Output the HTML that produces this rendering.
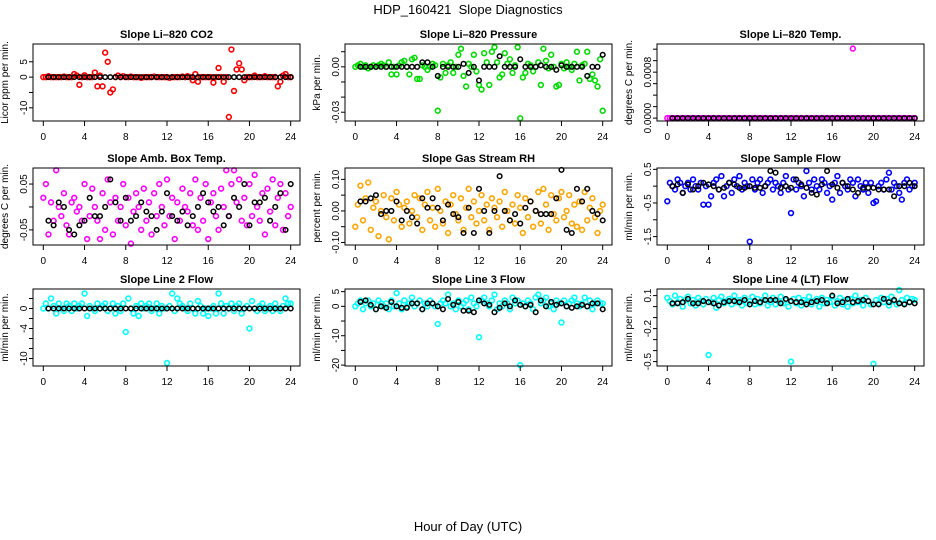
<!DOCTYPE html>
<html><head><meta charset="utf-8"><style>
html,body{margin:0;padding:0;background:#fff;}
svg{display:block;font-family:"Liberation Sans",Arial,sans-serif;}
</style></head><body>
<svg id="chart" width="936" height="540" viewBox="0 0 936 540" xmlns="http://www.w3.org/2000/svg">
<rect width="936" height="540" fill="#fff"/>
<text x="468" y="14" font-size="13" text-anchor="middle" style="white-space:pre">HDP_160421  Slope Diagnostics</text>
<text x="468" y="531" font-size="13" text-anchor="middle">Hour of Day (UTC)</text>
</svg>
<script>
const xTicks = [0,4,8,12,16,20,24];
// Panel 1: CO2 (ppm/min)
const co2Color = [0,0,0.3,0,0,0,0,0, 0.2,0,0,0,1,0.5,-2.5,0, 0.6,0,0,0,1.5,-3,0.5,-3, 8,5,-5,-4,0,0.5,0,0.3, 0,0,0.2,0,0,0,-0.2,0, 0,0,0,0.2,0,0,0,0, 0,-0.2,0,0,0,0,0.2,0, 0.3,0,-1,1,-1.5,0,0,0, 0,0,-1.8,0,3,0,-1.5,0, -13,9,-4.5,2.5,4.5,2.5,-1,0, 0,0,0.5,0,0,0,0.3,0, 0,0,0,-3,-1.5,0.5,1,0, 0];
const co2Black = [0,0,0,0,0,0,0,0,0,0,0,0,0,0,0,0,0,0,0,0,0,0,0,0,0,0,0,0,0,0,0,0,0,0,0,0,0,0,0,0,0,0,0,0,0,0,0,0];
const co2Ticks = [5,0,-5,-10];
const co2Labels = ["5","0","","-10"];
// Panel 2: Pressure (0.001 kPa/min)
const presColor = [0,1,2,0,1,-1,0,1, 0,1,2,1,0,3,-5,0, -5,1,3,4,0,-5,5,6, -8,-8,1,0,-2,0,2,1, -29,-7,2,-4,1,3,-4,0, 8,12,-6,-13,2,0,8,-3, -12,-15,9,3,-12,10,13,3, -7,-5,9,2,5,-4,1,13, -34,-7,-4,2,1,-3,0,3, -12,12,4,-1,8,0,-13,-12, 2,-1,3,0,-2,2,10,-9, 1,2,10,-8,-5,-9,-13,5, -29];
const presBlack = [0,0,0,0,0,0,0,0,0,0,0,0,3,3,0,-6,0,0,0,0,2,-4,0,-9,0,0,0,7,0,0,0,5,0,0,0,1,0,0,-2,1,0,0,0,0,-6,0,0,8];
const presTicks = [10,0,-10,-20,-30];
const presLabels = ["","0.00","","","-0.03"];
// Panel 3: Li-820 temp (1e-4 C/min)
const tempColor = [0,0,0,0,0,0,0,0,0,0,0,0,0,0,0,0,0,0,0,0,0,0,0,0,0,0,0,0,0,0,0,0,0,0,0,0,0,0,0,0,0,0,0,0,0,0,0,0,0,0,0,0,0,0,0,0,0,0,0,0,0,0,0,0,0,0,0,0,0,0,0,0,12.1,0,0,0,0,0,0,0,0,0,0,0,0,0,0,0,0,0,0,0,0,0,0,0,0];
const tempBlack = [0,0,0,0,0,0,0,0,0,0,0,0,0,0,0,0,0,0,0,0,0,0,0,0,0,0,0,0,0,0,0,0,0,0,0,0,0,0,0,0,0,0,0,0,0,0,0,0];
const tempTicks = [0,2,4,6,8,10,12];
const tempLabels = ["0.0000","","","","0.0008","",""];
// Panel 4: Amb box temp (0.01 C/min)
const ambColor = [2,5,-6,1,-3,8,0,-2, 3,-4,-6,1,2,-1,0,-3, 5,-7,-2,4,0,-3,-7,3, -5,6,1,-6,2,-3,0,5, -4,2,-8,-1,3,0,-5,4, -3,1,-6,3,-2,5,0,-4, 6,-2,2,-7,1,-3,4,0, -1,3,-4,6,-5,2,-3,5, -7,1,3,-2,-5,4,0,8, -2,5,8,1,6,-3,2,-4, 5,-2,7,0,-3,3,-6,4, -1,6,-4,2,5,-5,3,-2, 0];
const ambBlack = [-3,-4,1,0,-5,-6,-4,-3,2,-2,-2,0,6,1,-3,2,-3,-2,1,-1,-2,-5,-1,3,-2,-3,-1,-4,-2,0,3,1,-1,0,-4,-2,2,0,5,-4,1,1,2,-3,0,3,-5,5];
const ambTicks = [5,0,-5];
const ambLabels = ["0.05","","-0.05"];
// Panel 5: RH (0.01 %/min)
const rhColor = [-5,2,8,-3,4,9,-6,1, 3,-8,0,5,-2,-9,4,-3, 6,2,-5,1,3,-4,0,5, -2,4,-6,2,6,-3,1,-5, 7,0,-4,3,-7,2,5,-1, -3,4,-6,1,7,-2,3,-4, 0,5,-3,2,-6,4,1,-2, 3,-5,6,0,-3,2,-4,5, 1,-7,4,-2,3,-5,0,6, -4,7,2,-6,5,-1,-3,4, 6,-2,0,5,-4,2,-5,3, -6,6,-3,1,4,-2,-7,0, 2];
const rhBlack = [3,3,4,5,-1,0,0,3,-3,0,-2,-4,4,1,4,1,-3,2,-1,-2,-7,1,-7,7,0,-7,0,11,0,-3,-1,-4,1,3,0,-1,-1,-1,4,13,-6,-7,7,3,7,0,-1,-3];
const rhTicks = [10,5,0,-5,-10];
const rhLabels = ["0.10","","0.00","","-0.10"];
// Panel 6: Sample flow (0.1 ml/min/min)
const sfColor = [-4.5,1,0,-1,2,1,-2,0, 1,-1,2,0,-1,1,-5.5,0, -5.5,-3,1,2,-1,3,-3,0, 1,-2,2,0,3,-1,1,0, -16.5,2,-1,1,2,-2,0,1, 2,-1,1,0,-2,1,3,-1, -8,2,-1,1,0,-3,4.5,1, -1,2,0,-1,2,1,-2,0, -4,1,3,-2,1,0,-1,2, 1,-3,2,0,-1,1,-2,1, -5,-4.5,0,1,-1,2,4,-1, 1,0,-2,-4,1,2,-1,0, 1];
const sfBlack = [0,0.5,-2,0.5,-1,0,1,0.5,0,-1,-0.5,1,0.5,-0.5,-0.5,0,-0.5,-0.5,0,4.5,4,-0.5,0,-0.5,2,0.5,-0.5,-2,-2.5,0.5,4.5,0.5,-0.5,1,0,-1,-2,-0.5,-0.5,-0.5,-1,-1,-1,-3,0,0,1,0];
const sfTicks = [5,0,-5,-10,-15];
const sfLabels = ["0.5","","-0.5","","-1.5"];
// Panel 7: Line 2 flow
const l2Color = [0,1,0,2,0.5,-1,1,0, -0.5,1,0.5,-0.5,1,0,0.5,1, 3,-1.5,0.5,0,-0.5,1,0,0.5, 1,-0.5,0,1,-1,0.5,-0.5,1, -4.7,2,0,-1,0.5,-1.5,1,0, 0.5,1,-0.5,0,1,-1,0.5,0, -10.9,0.5,3,-0.5,2,1,0.5,0, -0.5,1,0,-1,1.5,0.5,-1,0, -1.5,0,0.5,-1,3,1,-1,0.5, 0,1,-0.5,0.5,1,-1,0,0.5, -4,1.5,0,-0.5,0.5,1,-0.5,0, 0.5,-0.5,1,0,-0.5,0.5,2,1, 1];
const l2Black = [0,0,0,0,0,0,0,0,0,0,0,0,0,0,0,0,0,0,0,0,0,0,0,0,0,0,0,0,0,0,0,0,0,0,0,0,0,0,0,0,0,0,0,0,0,0,0,0];
const l2Ticks = [2,0,-2,-4,-6,-8,-10];
const l2Labels = ["","0","","-4","","","-10"];
// Panel 8: Line 3 flow
const l3Color = [0,1,2,-1,1,2,0,1, -1,2,1,0,1,-1,2,0, 4.5,1,-1,2,0,1,3,0, 1,2,-1,1,0,2,1,0, -6,1,2,1,4,0,1,-1, 2,0,1,2,-1,3,1,0, -10.5,2,3,1,0,2,4,-1, 1,0,2,1,-1,3,1,2, -20,1,0,2,1,-1,3,4, 1,2,3,0,1,-1,2,1, -5.5,2,0,1,2,3,1,0, 1,3,0,2,-1,1,2,1, 1];
const l3Black = [1.5,2,0.5,-1,0,-0.5,1.5,0,-0.5,-0.5,1,1,-1,1,1,0,-1,2.5,0.5,1.5,-1.5,-1.5,-2,2,1,0.5,-2,-0.5,1,0,2,0.5,0,0.5,-2,2,0,1.5,0.5,1,0,-0.5,0,0.5,0,1,1,-1];
const l3Ticks = [5,0,-5,-10,-15,-20];
const l3Labels = ["5","0","","-10","","-20"];
// Panel 9: Line 4 flow (0.01)
const l4Color = [8,5,2,10,4,7,0,6, 9,3,6,1,8,5,2,7, -44,4,8,-1,6,9,3,5, 7,2,10,4,6,1,8,3, 5,9,2,7,3,6,10,1, 4,8,2,5,9,3,6,0, -50,7,3,8,1,6,4,9, 2,5,7,0,8,3,6,4, 9,1,5,8,2,6,0,7, 3,10,4,6,1,8,5,2, -52,6,3,8,4,7,1,9, 5,2,15,6,3,8,4,7, 6];
const l4Black = [3,3,4,7,3,3,5,4,3,1,4,5,5,4,6,2,5,4,6,6,6,3,7,5,4,4,2,4,5,6,3,10,3,4,7,4,5,6,5,2,2,7,4,6,3,2,4,3];
const l4Ticks = [10,0,-10,-20,-30,-40,-50];
const l4Labels = ["0.1","","","-0.2","","","-0.5"];

const NS = "http://www.w3.org/2000/svg";
const svg = document.getElementById('chart');
const colLeft = [33,345,657], rowTop = [44,168,289], W = 267, H = 77;
const panels = [
 {name:'co2',title:'Slope Li\u2013820 CO2',ylab:'Licor ppm per min.',col:'#ff0000',c:co2Color,b:co2Black,t:co2Ticks,l:co2Labels,ymin:-14.3,ymax:10.8},
 {name:'pressure',title:'Slope Li\u2013820 Pressure',ylab:'kPa per min.',col:'#00dd00',c:presColor,b:presBlack,t:presTicks,l:presLabels,ymin:-35.8,ymax:15.1},
 {name:'li820-temp',title:'Slope Li\u2013820 Temp.',ylab:'degrees C per min.',col:'#ff00ff',c:tempColor,b:tempBlack,t:tempTicks,l:tempLabels,ymin:-0.5,ymax:12.9},
 {name:'amb-box-temp',title:'Slope Amb. Box Temp.',ylab:'degrees C per min.',col:'#ff00ff',c:ambColor,b:ambBlack,t:ambTicks,l:ambLabels,ymin:-8.3,ymax:8.5},
 {name:'gas-stream-rh',title:'Slope Gas Stream RH',ylab:'percent per min.',col:'#ffa500',c:rhColor,b:rhBlack,t:rhTicks,l:rhLabels,ymin:-10.8,ymax:13.6},
 {name:'sample-flow',title:'Slope Sample Flow',ylab:'ml/min per min.',col:'#0000ff',c:sfColor,b:sfBlack,t:sfTicks,l:sfLabels,ymin:-17.5,ymax:5.4},
 {name:'line2-flow',title:'Slope Line 2 Flow',ylab:'ml/min per min.',col:'#00ffff',c:l2Color,b:l2Black,t:l2Ticks,l:l2Labels,ymin:-11.5,ymax:3.9},
 {name:'line3-flow',title:'Slope Line 3 Flow',ylab:'ml/min per min.',col:'#00ffff',c:l3Color,b:l3Black,t:l3Ticks,l:l3Labels,ymin:-20.3,ymax:5.9},
 {name:'line4-flow',title:'Slope Line 4 (LT) Flow',ylab:'ml/min per min.',col:'#00ffff',c:l4Color,b:l4Black,t:l4Ticks,l:l4Labels,ymin:-54,ymax:16}
];
function mk(tag, attrs, parent){const e=document.createElementNS(NS,tag);for(const k in attrs)e.setAttribute(k,attrs[k]);parent.appendChild(e);return e;}
panels.forEach((p,i)=>{
  const L = colLeft[i%3], T = rowTop[Math.floor(i/3)];
  const g = mk('g',{},svg);
  
  
  const xs = v => L + 10.3 + v/24*(W-19.6);
  const ys = v => T + (p.ymax - v)/(p.ymax - p.ymin)*H;
  const title = mk('text',{x:L+W/2,y:T-6,'font-size':11,'font-weight':'bold','text-anchor':'middle'},g);
  title.textContent = p.title;
  
  
  const yl = mk('text',{transform:`translate(${L-25},${T+H/2}) rotate(-90)`,'font-size':10,'text-anchor':'middle'},g);
  yl.textContent = p.ylab;
  
  
  const n = p.c.length;
  p.c.forEach((v,k)=>{
    const c = mk('circle',{cx:xs(24*k/(n-1)),cy:ys(v),r:2.4,fill:'none',stroke:p.col,'stroke-width':1.6},g);
    
    
  });
  const m = p.b.length;
  p.b.forEach((v,k)=>{
    const c = mk('circle',{cx:xs(24*(k+1)/m),cy:ys(v),r:2.3,fill:'none',stroke:'#000','stroke-width':1.5},g);
    
    
  });
  const box = mk('rect',{x:L,y:T,width:W,height:H,fill:'none',stroke:'#000','stroke-width':1},g);
  
  
  xTicks.forEach(t=>{
    mk('line',{x1:xs(t),x2:xs(t),y1:T+H,y2:T+H+5,stroke:'#000'},g);
    const tx = mk('text',{x:xs(t),y:T+H+19,'font-size':10,'text-anchor':'middle'},g);
    tx.textContent = t;
    
    
  });
  p.t.forEach((t,k)=>{
    mk('line',{x1:L-4,x2:L,y1:ys(t),y2:ys(t),stroke:'#000'},g);
    if(p.l[k]){
      const ty = mk('text',{transform:`translate(${L-6},${ys(t)}) rotate(-90)`,'font-size':10,'text-anchor':'middle'},g);
      ty.textContent = p.l[k];
      
      
    }
  });
});
</script>
</body></html>
